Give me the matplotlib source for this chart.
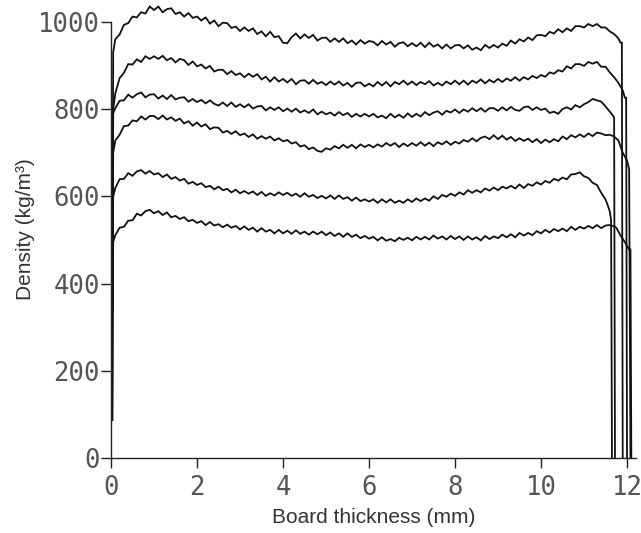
import numpy as np
import matplotlib
matplotlib.use("Agg")
import matplotlib.pyplot as plt

# shared sampling grid of the core of each profile (mm)
thickness = np.round(np.arange(0.1, 11.55, 0.1), 2)

# left edge of every profile: face of the board
left_x = [0.03, 0.05]

# density profiles (kg/m3), top curve first
board1_left = [340, 930]
board1 = [
    960, 971, 993, 997, 1012, 1010, 1022, 1019, 1035, 1027,
    1035, 1022, 1029, 1031, 1018, 1022, 1012, 1020, 1009, 1012,
    1003, 1010, 996, 1003, 990, 998, 997, 986, 989, 979,
    987, 979, 985, 972, 978, 967, 977, 965, 967, 952,
    951, 965, 973, 962, 971, 963, 970, 957, 963, 964,
    954, 962, 954, 962, 951, 957, 948, 958, 950, 956,
    954, 946, 956, 948, 954, 943, 951, 953, 944, 951,
    944, 952, 942, 952, 943, 948, 939, 948, 939, 946,
    947, 939, 946, 936, 941, 935, 947, 940, 947, 941,
    950, 945, 957, 950, 960, 955, 964, 958, 969, 970,
    967, 977, 973, 983, 976, 985, 979, 990, 990, 987,
    995, 990, 995, 987, 987,
]
board1_right_x = [11.6, 11.7, 11.8, 11.85, 11.88, 11.9]
board1_right = [978, 972, 962, 952, 952, 0]

board2_left = [340, 800]
board2 = [
    836, 871, 883, 903, 902, 914, 908, 921, 915, 921,
    915, 922, 912, 917, 907, 915, 912, 901, 909, 898,
    902, 893, 899, 886, 890, 890, 880, 887, 878, 882,
    873, 881, 874, 880, 868, 874, 863, 873, 863, 869,
    861, 869, 857, 865, 866, 858, 867, 858, 862, 855,
    863, 856, 863, 854, 860, 851, 860, 861, 852, 858,
    852, 862, 854, 862, 852, 862, 857, 865, 856, 863,
    855, 862, 857, 864, 854, 860, 854, 863, 857, 865,
    857, 865, 856, 865, 860, 868, 859, 867, 861, 869,
    862, 870, 865, 873, 865, 873, 868, 876, 871, 878,
    874, 884, 881, 889, 886, 898, 893, 903, 903, 899,
    908, 904, 908, 897, 897,
]
board2_right_x = [11.6, 11.7, 11.8, 11.9, 11.95, 11.98, 12.0]
board2_right = [884, 873, 860, 843, 826, 826, 0]

board3_left = [87, 790]
board3 = [
    802, 819, 820, 833, 826, 834, 838, 827, 833, 834,
    824, 831, 823, 832, 822, 826, 827, 817, 823, 816,
    821, 813, 820, 812, 808, 815, 807, 815, 805, 811,
    804, 811, 801, 806, 807, 797, 804, 798, 804, 795,
    801, 794, 801, 792, 797, 791, 799, 788, 794, 788,
    792, 785, 793, 786, 791, 782, 789, 783, 789, 783,
    789, 781, 785, 779, 789, 781, 787, 780, 790, 782,
    789, 783, 793, 786, 792, 795, 787, 796, 792, 799,
    791, 799, 794, 802, 795, 802, 794, 802, 802, 796,
    804, 797, 805, 798, 796, 804, 806, 798, 804, 798,
    801, 791, 794, 789, 800, 804, 799, 809, 804, 811,
    816, 823, 820, 817, 806,
]
board3_right_x = [11.55, 11.6, 11.65, 11.7, 11.72]
board3_right = [800, 794, 788, 781, 0]

board4_left = [340, 700]
board4 = [
    728, 741, 761, 762, 774, 772, 783, 776, 784, 784,
    777, 785, 776, 781, 773, 778, 767, 772, 762, 769,
    760, 765, 754, 758, 757, 746, 750, 743, 749, 740,
    744, 736, 742, 732, 738, 732, 737, 728, 733, 726,
    729, 721, 724, 714, 717, 708, 712, 704, 702, 710,
    707, 715, 710, 718, 711, 718, 710, 719, 713, 718,
    712, 719, 714, 722, 716, 722, 713, 721, 715, 722,
    716, 724, 716, 723, 715, 724, 719, 726, 718, 725,
    721, 729, 725, 733, 726, 734, 737, 731, 740, 731,
    739, 730, 736, 727, 733, 727, 732, 724, 731, 722,
    730, 724, 731, 726, 737, 731, 740, 735, 742, 736,
    744, 738, 746, 744, 740,
]
board4_right_x = [11.6, 11.7, 11.8, 11.85, 11.9, 12.0, 12.05, 12.08]
board4_right = [741, 737, 728, 714, 700, 682, 662, 0]

board5_left = [340, 600]
board5 = [
    619, 639, 640, 653, 647, 657, 660, 652, 658, 650,
    653, 644, 650, 640, 644, 636, 640, 629, 633, 626,
    630, 621, 624, 616, 622, 614, 617, 609, 615, 607,
    612, 606, 611, 603, 610, 601, 607, 602, 609, 603,
    608, 601, 606, 599, 607, 599, 603, 596, 601, 595,
    602, 594, 602, 594, 598, 590, 597, 589, 593, 588,
    593, 585, 593, 586, 593, 585, 590, 585, 593, 587,
    595, 589, 595, 590, 600, 594, 603, 599, 606, 601,
    609, 604, 614, 608, 614, 609, 618, 613, 620, 614,
    622, 618, 624, 618, 627, 619, 628, 624, 632, 627,
    635, 631, 640, 636, 643, 639, 650, 651, 655, 646,
    642, 631, 626, 608, 593,
]
board5_right_x = [11.55, 11.6, 11.63, 11.65]
board5_right = [580, 565, 545, 0]

board6_left = [87, 495]
board6 = [
    511, 528, 530, 544, 545, 560, 556, 566, 569, 561,
    566, 557, 563, 552, 555, 548, 552, 543, 546, 539,
    543, 534, 541, 533, 536, 529, 535, 528, 532, 524,
    531, 523, 528, 519, 527, 519, 523, 515, 523, 515,
    521, 514, 522, 514, 519, 512, 519, 513, 519, 511,
    517, 509, 515, 507, 515, 507, 512, 504, 509, 503,
    507, 499, 506, 498, 502, 497, 505, 500, 505, 499,
    507, 501, 507, 501, 510, 503, 508, 501, 509, 502,
    508, 500, 508, 501, 506, 499, 509, 502, 508, 504,
    512, 506, 513, 506, 516, 510, 516, 511, 520, 515,
    523, 517, 525, 520, 526, 520, 530, 523, 530, 526,
    532, 527, 534, 527, 533,
]
board6_right_x = [11.6, 11.7, 11.75, 11.85, 11.95, 12.05, 12.08, 12.1]
board6_right = [534, 531, 528, 510, 495, 478, 478, 0]

profiles = [
    (board1_left, board1, board1_right_x, board1_right),
    (board2_left, board2, board2_right_x, board2_right),
    (board3_left, board3, board3_right_x, board3_right),
    (board4_left, board4, board4_right_x, board4_right),
    (board5_left, board5, board5_right_x, board5_right),
    (board6_left, board6, board6_right_x, board6_right),
]

x_ticks = [0, 2, 4, 6, 8, 10, 12]
y_ticks = [0, 200, 400, 600, 800, 1000]

fig = plt.figure(figsize=(6.41, 5.33), dpi=100)
ax = fig.add_axes([0.1732, 0.1407, 0.8184, 0.8593])

for left, core, right_x, right in profiles:
    x = np.concatenate([left_x, thickness, right_x])
    y = np.concatenate([left, core, right])
    ax.plot(x, y, color="#111111", lw=1.3, solid_joinstyle="miter")

ax.set_xlim(0, 12.2)
ax.set_ylim(0, 1050)
ax.spines["top"].set_visible(False)
ax.spines["right"].set_visible(False)
ax.spines["left"].set_bounds(0, 1000)
for s in ["left", "bottom"]:
    ax.spines[s].set_linewidth(1.0)
    ax.spines[s].set_color("#222222")

ax.set_xticks(x_ticks)
ax.set_yticks(y_ticks)
ax.tick_params(axis="both", direction="out", length=7, width=1.0,
               color="#222222", labelcolor="#555555", labelsize=18.5)
ax.tick_params(axis="x", pad=5)
ax.tick_params(axis="y", pad=1)
for lab in ax.get_xticklabels() + ax.get_yticklabels():
    lab.set_family("DejaVu Sans Mono")

ax.set_xlabel("Board thickness (mm)", fontsize=15, color="#333333",
              family="Liberation Sans", labelpad=5)
ax.set_ylabel("Density (kg/m³)", fontsize=15, color="#333333",
              family="Liberation Sans", labelpad=2)

fig.savefig("out.png", dpi=100)
